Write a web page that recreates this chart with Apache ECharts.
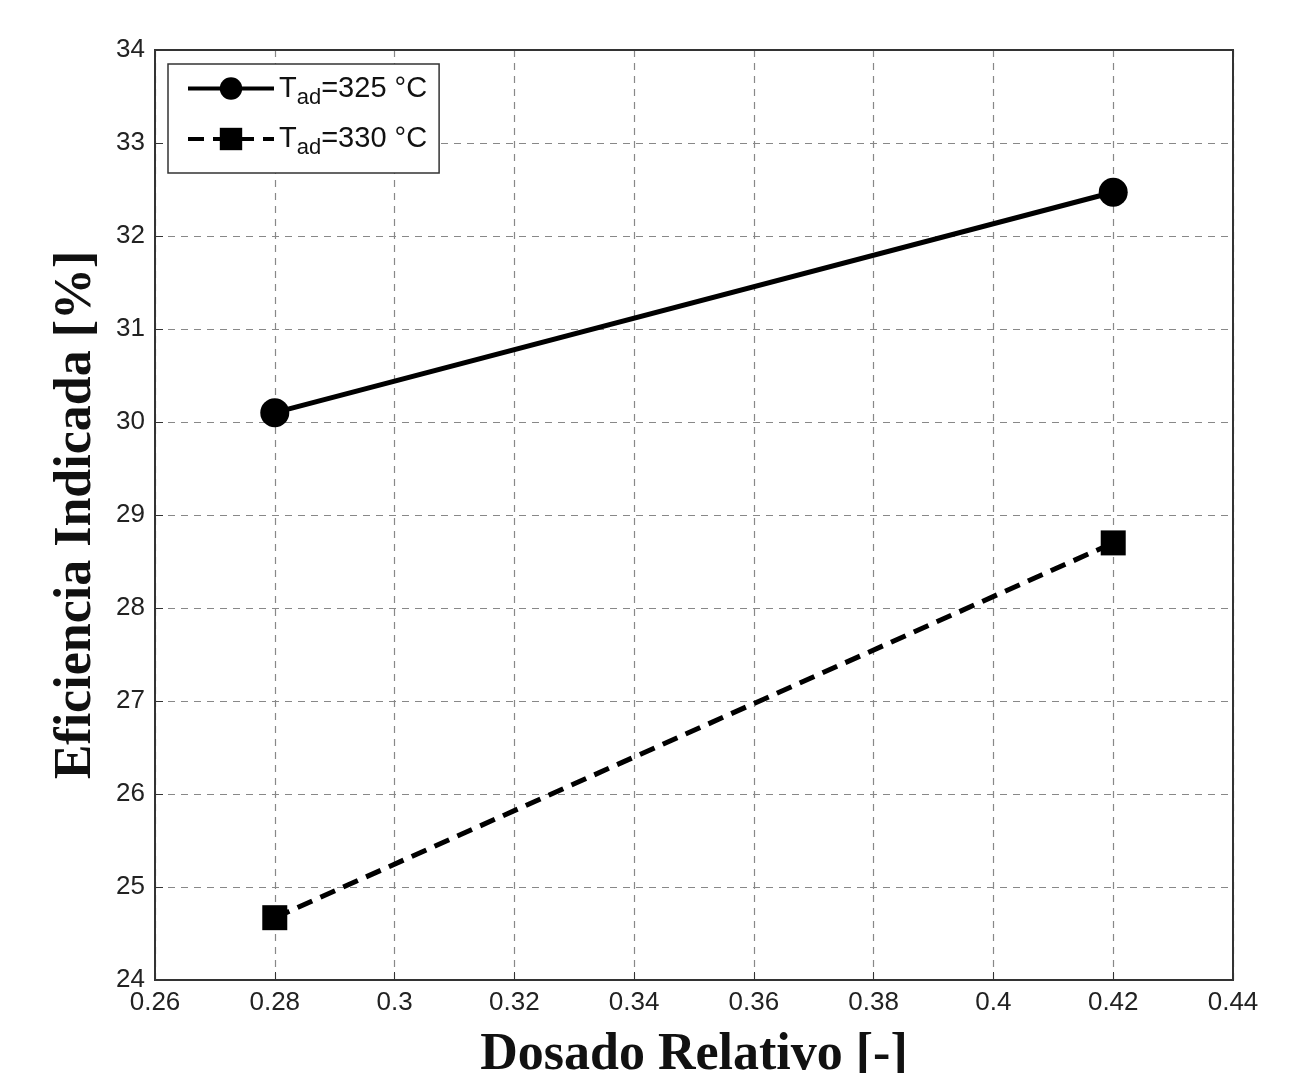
<!DOCTYPE html>
<html>
<head>
<meta charset="utf-8">
<script src="https://cdn.jsdelivr.net/npm/echarts@6/dist/echarts.min.js"></script>
<style>
  html, body { margin: 0; padding: 0; background: #fff; }
  #main { width: 1301px; height: 1073px; }
</style>
</head>
<body>
<div id="main"></div>
<script>
// datos
let dosado = [0.28, 0.42];
let efic325 = [30.1, 32.47];
let efic330 = [24.67, 28.7];

let chartDom = document.getElementById('main');
let myChart = echarts.init(chartDom);

let tickFont = { fontFamily: 'Liberation Sans, Arial', fontSize: 26, color: '#222' };
let rich = {
  t: { fontFamily: 'Liberation Sans, Arial', fontSize: 29, color: '#111' },
  s: { fontFamily: 'Liberation Sans, Arial', fontSize: 22, color: '#111', padding: [18, 0, 0, 0] }
};

let option = {
  animation: false,
  grid: { left: 155, right: 68, top: 50, bottom: 93, outerBoundsMode: 'none', containLabel: false },
  legend: {
    left: 168,
    top: 64,
    orient: 'vertical',
    itemWidth: 86,
    itemHeight: 28,
    itemGap: 16,
    padding: [10, 12, 14, 18],
    borderColor: '#333',
    borderWidth: 1.5,
    borderRadius: 0,
    backgroundColor: '#fff',
    lineStyle: { width: 4 },
    formatter: function (name) {
      return name === 'T325' ? '{t|T}{s|ad}{t|=325 °C}' : '{t|T}{s|ad}{t|=330 °C}';
    },
    textStyle: { rich: rich },
    data: ['T325', 'T330']
  },
  xAxis: {
    type: 'value',
    min: 0.26,
    max: 0.44,
    interval: 0.02,
    name: 'Dosado Relativo [-]',
    nameLocation: 'middle',
    nameGap: 50,
    nameTextStyle: { fontFamily: 'Liberation Serif, Times New Roman', fontWeight: 'bold', fontSize: 52, color: '#111' },
    axisLine: { onZero: false, lineStyle: { color: '#333', width: 2 } },
    axisTick: { show: true, inside: true, length: 8, lineStyle: { color: '#333' } },
    axisLabel: Object.assign({ margin: 10, formatter: function (v) { return +v.toFixed(2) + ''; } }, tickFont),
    splitLine: { show: true, lineStyle: { color: '#888', type: [7, 6], width: 1.2 } }
  },
  yAxis: {
    type: 'value',
    min: 24,
    max: 34,
    interval: 1,
    name: 'Eficiencia Indicada [%]',
    nameLocation: 'middle',
    nameGap: 52,
    nameTextStyle: { fontFamily: 'Liberation Serif, Times New Roman', fontWeight: 'bold', fontSize: 52, color: '#111' },
    axisLine: { show: true, onZero: false, lineStyle: { color: '#333', width: 2 } },
    axisTick: { show: true, inside: true, length: 8, lineStyle: { color: '#333' } },
    axisLabel: Object.assign({ margin: 10 }, tickFont),
    splitLine: { show: true, lineStyle: { color: '#888', type: [7, 6], width: 1.2 } }
  },
  series: [
    {
      name: 'T325',
      type: 'line',
      symbol: 'circle',
      symbolSize: 29,
      itemStyle: { color: '#000' },
      lineStyle: { color: '#000', width: 5 },
      data: dosado.map(function (x, i) { return [x, efic325[i]]; }),
      z: 3
    },
    {
      name: 'T330',
      type: 'line',
      symbol: 'rect',
      symbolSize: 25,
      itemStyle: { color: '#000' },
      lineStyle: { color: '#000', width: 5, type: [16, 9] },
      data: dosado.map(function (x, i) { return [x, efic330[i]]; }),
      z: 3
    }
  ],
  graphic: [
    {
      type: 'rect',
      shape: { x: 155, y: 50, width: 1301 - 155 - 68, height: 1073 - 50 - 93 },
      style: { fill: 'none', stroke: '#333', lineWidth: 2 },
      silent: true,
      z: 10
    }
  ]
};

option && myChart.setOption(option);
</script>
</body>
</html>
